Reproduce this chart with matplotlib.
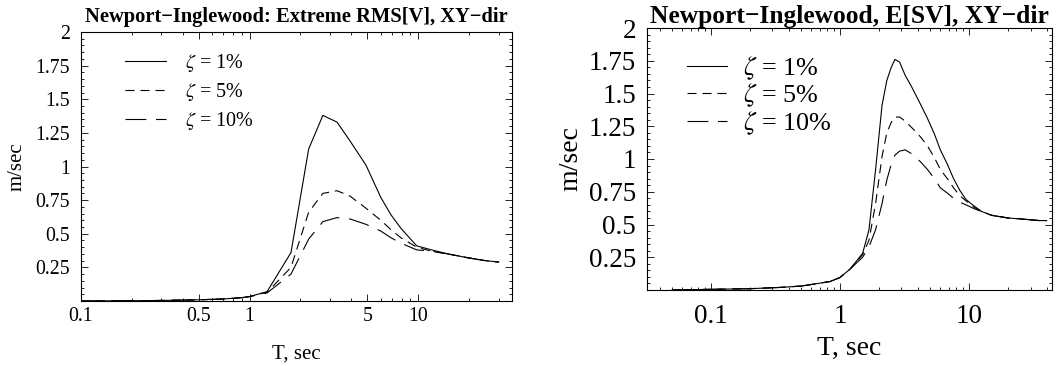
import numpy as np
import matplotlib
matplotlib.use("Agg")
import matplotlib.pyplot as plt
from matplotlib.ticker import FixedLocator, NullFormatter, MultipleLocator

# ---------------- data ----------------
labels = [r"$\zeta$ = 1%", r"$\zeta$ = 5%", r"$\zeta$ = 10%"]

# Left panel: Extreme RMS[V]
T_left = [0.1, 0.2, 0.3, 0.5, 0.7, 0.9, 1.0, 1.27, 1.76, 2.24, 2.72, 3.3, 3.94,
          4.9, 6.0, 6.9, 7.9, 9.8, 12, 15, 20, 25, 30]
rms_1 = [0.0, 0.002, 0.004, 0.009, 0.015, 0.025, 0.033, 0.07, 0.36, 1.13, 1.38,
         1.33, 1.19, 1.01, 0.77, 0.64, 0.54, 0.41, 0.38, 0.35, 0.32, 0.30, 0.29]
rms_5 = [0.0, 0.002, 0.004, 0.009, 0.015, 0.025, 0.033, 0.065, 0.25, 0.66, 0.80,
         0.82, 0.78, 0.69, 0.60, 0.53, 0.47, 0.40, 0.37, 0.35, 0.32, 0.30, 0.29]
rms_10 = [0.0, 0.002, 0.004, 0.009, 0.015, 0.025, 0.033, 0.06, 0.20, 0.46, 0.59,
          0.62, 0.61, 0.57, 0.52, 0.47, 0.43, 0.38, 0.37, 0.35, 0.32, 0.30, 0.29]

# Right panel: E[SV]
T_right = [0.05, 0.1, 0.2, 0.35, 0.5, 0.63, 0.84, 1.0, 1.2, 1.5, 1.68, 1.89, 2.12,
           2.31, 2.5, 2.67, 2.9, 3.2, 3.6, 4.2, 4.77, 5.4, 6.0, 6.8, 7.6, 8.5,
           9.5, 11, 12.5, 15, 20, 27, 35, 40]
sv_1 = [0.0, 0.005, 0.01, 0.02, 0.03, 0.045, 0.065, 0.095, 0.16, 0.28, 0.46, 0.92,
        1.41, 1.60, 1.70, 1.76, 1.74, 1.64, 1.55, 1.42, 1.31, 1.19, 1.07, 0.96,
        0.85, 0.76, 0.69, 0.64, 0.60, 0.57, 0.55, 0.54, 0.53, 0.53]
sv_5 = [0.0, 0.005, 0.01, 0.02, 0.03, 0.045, 0.065, 0.095, 0.16, 0.27, 0.38, 0.66,
        1.02, 1.20, 1.28, 1.32, 1.32, 1.29, 1.24, 1.17, 1.10, 1.01, 0.92, 0.85,
        0.78, 0.72, 0.68, 0.63, 0.60, 0.57, 0.55, 0.54, 0.53, 0.53]
sv_10 = [0.0, 0.005, 0.01, 0.02, 0.03, 0.045, 0.065, 0.095, 0.16, 0.25, 0.33, 0.46,
         0.66, 0.84, 0.96, 1.03, 1.06, 1.07, 1.04, 0.98, 0.92, 0.85, 0.78, 0.74,
         0.70, 0.67, 0.65, 0.62, 0.60, 0.57, 0.55, 0.54, 0.53, 0.53]

left_xticks = [0.1, 0.5, 1, 5, 10]
left_xticklabels = ["0.1", "0.5", "1", "5", "10"]
right_xticks = [0.1, 1, 10]
right_xticklabels = ["0.1", "1", "10"]
yticks = [0.25, 0.5, 0.75, 1.0, 1.25, 1.5, 1.75, 2.0]
yticklabels = ["0.25", "0.5", "0.75", "1", "1.25", "1.5", "1.75", "2"]

# ---------------- style ----------------
plt.rcParams['font.family'] = ['Liberation Serif', 'DejaVu Serif']
plt.rcParams['mathtext.fontset'] = 'stix'
plt.rcParams['lines.scale_dashes'] = False

styles = [dict(linestyle='-'),
          dict(linestyle=(0, (6.5, 4.3))),
          dict(linestyle=(0, (15, 7)))]

W, H = 1060, 366
fig = plt.figure(figsize=(W / 100, H / 100), dpi=100)

ax1 = fig.add_axes([81 / W, (H - 301) / H, (512 - 81) / W, (301 - 32) / H])
ax2 = fig.add_axes([647 / W, (H - 290) / H, (1052 - 647) / W, (290 - 28) / H])


def style_axis(ax, xticks, xticklabels, xlim, fs_tick, fs_lab, fs_title, title,
               title_pad, xpad, xlabelpad, ylabelpad, legend_anchor, leg_fs,
               hlen, htp, lsp):
    ax.set_xscale('log')
    ax.set_xlim(*xlim)
    ax.set_ylim(0, 2)
    ax.xaxis.set_major_locator(FixedLocator(xticks))
    ax.set_xticklabels(xticklabels)
    minors = []
    for dec in [0.01, 0.1, 1, 10]:
        for k in range(1, 10):
            v = dec * k
            if v not in xticks:
                minors.append(v)
    ax.xaxis.set_minor_locator(FixedLocator(minors))
    ax.xaxis.set_minor_formatter(NullFormatter())
    ax.set_yticks(yticks)
    ax.set_yticklabels(yticklabels)
    ax.yaxis.set_minor_locator(MultipleLocator(0.05))
    ax.tick_params(which='both', direction='in', top=True, right=True,
                   labelsize=fs_tick, width=0.6)
    ax.tick_params(which='major', length=5)
    ax.tick_params(which='minor', length=2.5)
    ax.tick_params(axis='x', pad=xpad)
    ax.tick_params(axis='y', pad=8)
    for s in ax.spines.values():
        s.set_linewidth(0.8)
    ax.set_xlabel("T, sec", fontsize=fs_lab, labelpad=xlabelpad)
    ax.set_ylabel("m/sec", fontsize=fs_lab, labelpad=ylabelpad)
    ax.set_title(title, fontsize=fs_title, fontweight='bold', pad=title_pad)
    ax.legend(frameon=False, loc='upper left', bbox_to_anchor=legend_anchor,
              fontsize=leg_fs, handlelength=hlen, handletextpad=htp,
              labelspacing=lsp, borderaxespad=0)


for y, lab, st in zip([rms_1, rms_5, rms_10], labels, styles):
    ax1.plot(T_left, y, color='black', linewidth=0.8, label=lab, **st)
style_axis(ax1, left_xticks, left_xticklabels, (0.1, 36), 14.3, 15, 14.8,
           "Newport\u2212Inglewood: Extreme RMS[V], XY\u2212dir",
           7.5, 4, 14, 6.5, (0.084, 0.955), 14.5, 2.0, 0.95, 0.35)

for y, lab, st in zip([sv_1, sv_5, sv_10], labels, styles):
    ax2.plot(T_right, y, color='black', linewidth=0.8, label=lab, **st)
style_axis(ax2, right_xticks, right_xticklabels, (0.032, 44), 19.5, 20, 18.4,
           "Newport\u2212Inglewood, E[SV], XY\u2212dir",
           1, 10, 5, 3.5, (0.074, 0.94), 18.8, 1.53, 0.6, 0.0)

fig.savefig("out.png", dpi=100)
